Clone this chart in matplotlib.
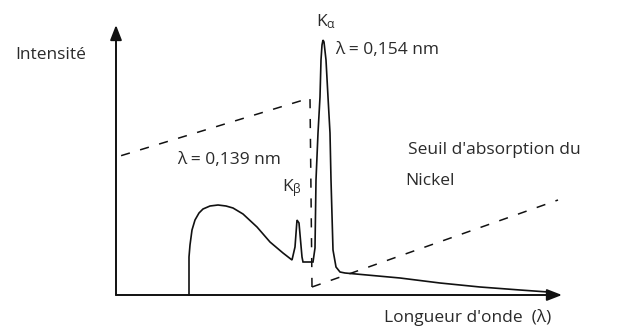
import matplotlib.pyplot as plt

plt.rcParams['font.family'] = ['Open Sans', 'DejaVu Sans']
plt.rcParams['mathtext.fontset'] = 'custom'
plt.rcParams['mathtext.rm'] = 'Open Sans'
plt.rcParams['mathtext.it'] = 'Open Sans'

# X-ray tube emission spectrum (schematic units: wavelength -> right, intensity -> up)
spec_x = [73, 73, 74, 76, 79, 83, 87, 94, 102, 110, 117, 127, 141, 154, 167, 176,
          179, 181, 183, 186, 187, 197,
          199, 200, 202, 204, 205, 206, 207, 208, 210, 212, 214, 215, 217, 220, 224,
          229, 284, 324, 364, 404, 432]
spec_y = [0, 38, 50, 65, 75, 82, 86, 89, 90, 89, 87, 81, 68, 53, 42, 35,
          48, 75, 72, 38, 33, 33,
          47, 115, 162, 198, 235, 250, 255, 253, 235, 198, 162, 115, 45, 28, 23,
          22, 17, 12, 8, 5, 3]

# Nickel filter absorption: short-wavelength branch (drawn from the K edge back) and long-wavelength branch
abs_lo_x = [196, 194, 4]
abs_lo_y = [8, 197, 139]
abs_hi_x = [196, 442]
abs_hi_y = [8, 95]

fig = plt.figure(figsize=(6.18, 3.29), dpi=100)
ax = fig.add_axes([0, 0, 1, 1])
ax.set_xlim(-116, 502)
ax.set_ylim(-34, 295)
ax.axis('off')

ink = '#111111'
txt = '#2a2a2a'

# axes with arrow heads
arrow = dict(arrowstyle='-|>,head_length=0.9,head_width=0.35', color=ink, lw=1.4,
             shrinkA=0, shrinkB=0)
ax.annotate('', xy=(0, 270), xytext=(0, 0), arrowprops=arrow)
ax.annotate('', xy=(446, 0), xytext=(0, 0), arrowprops=arrow)

ax.plot(spec_x, spec_y, color=ink, lw=1.2, solid_joinstyle='miter')
ax.plot(abs_lo_x, abs_lo_y, color=ink, lw=1.1, dashes=(6, 7))
ax.plot(abs_hi_x, abs_hi_y, color=ink, lw=1.1, dashes=(6, 7))

fs = 12.5
ax.text(-101, 240, 'Intensité', fontsize=fs, color=txt, ha='left', va='center')
ax.text(200, 273, r'K$_\alpha$', fontsize=fs, color=txt, ha='left', va='center')
ax.text(219, 245, 'λ = 0,154 nm', fontsize=fs, color=txt, ha='left', va='center')
ax.text(61, 135, 'λ = 0,139 nm', fontsize=fs, color=txt, ha='left', va='center')
ax.text(166, 107, r'K$_\beta$', fontsize=fs, color=txt, ha='left', va='center')
ax.text(292, 145, "Seuil d'absorption du", fontsize=fs, color=txt, ha='left', va='center')
ax.text(289, 114, 'Nickel', fontsize=fs, color=txt, ha='left', va='center')
ax.text(268, -22, "Longueur d'onde  (λ)", fontsize=fs, color=txt, ha='left', va='center')

fig.savefig('out.png', dpi=100)
